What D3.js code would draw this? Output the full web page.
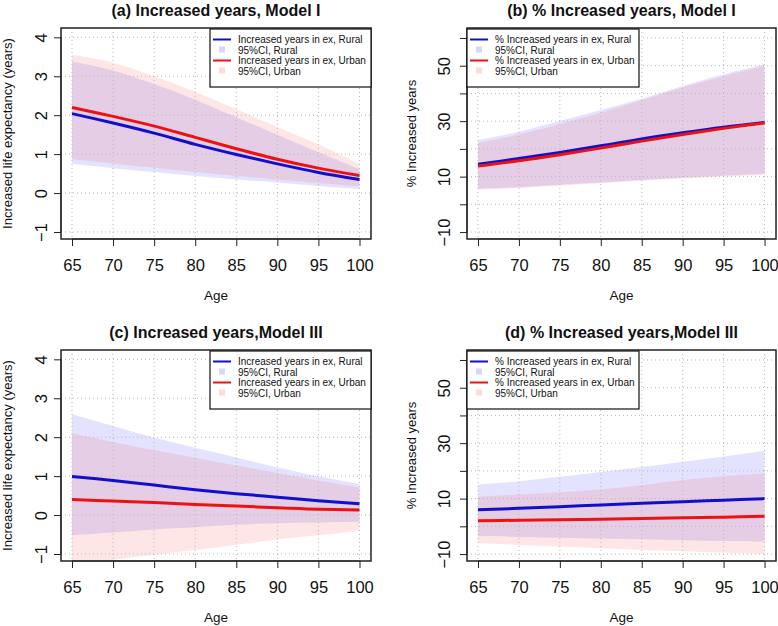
<!DOCTYPE html>
<html>
<head>
<meta charset="utf-8">
<script src="https://cdn.jsdelivr.net/npm/d3@7"></script>
<style>
  html, body { margin: 0; padding: 0; background: #fff; }
  svg { display: block; font-family: "Liberation Sans", Arial, Helvetica, sans-serif; }
</style>
</head>
<body>
<svg id="chart" width="778" height="626"></svg>
<script>
// ---------------- DATA ----------------
const ages = [65, 70, 75, 80, 85, 90, 95, 100];
const xTicks = [65, 70, 75, 80, 85, 90, 95, 100];

const yTicksYears = [-1, 0, 1, 2, 3, 4];
const yLabelsYears = ["\u22121", "0", "1", "2", "3", "4"];
const yTicksPct = [-10, 0, 10, 20, 30, 40, 50, 60];
const yLabelsPct = ["\u221210", "", "10", "", "30", "", "50", ""];

// (a) Model I, increased years
const aRural   = [2.04, 1.80, 1.54, 1.25, 0.99, 0.75, 0.53, 0.35];
const aRuralLo = [0.75, 0.64, 0.54, 0.44, 0.35, 0.27, 0.18, 0.10];
const aRuralHi = [3.38, 3.15, 2.80, 2.40, 1.95, 1.50, 1.05, 0.62];
const aUrban   = [2.20, 1.97, 1.72, 1.43, 1.14, 0.87, 0.64, 0.45];
const aUrbanLo = [0.87, 0.76, 0.65, 0.54, 0.44, 0.35, 0.26, 0.17];
const aUrbanHi = [3.55, 3.35, 3.00, 2.60, 2.15, 1.70, 1.25, 0.75];

// (b) Model I, % increased years
const bRural   = [14.5, 16.5, 18.7, 21.1, 23.6, 25.8, 27.8, 29.5];
const bRuralLo = [5.6, 6.2, 7.1, 7.9, 8.8, 9.6, 10.3, 11.0];
const bRuralHi = [23.2, 26.2, 30.1, 34.0, 38.1, 42.7, 46.9, 50.5];
const bUrban   = [13.8, 15.7, 17.9, 20.3, 22.8, 25.2, 27.4, 29.4];
const bUrbanLo = [5.3, 5.9, 6.8, 7.6, 8.5, 9.3, 10.0, 10.7];
const bUrbanHi = [22.2, 25.2, 28.9, 33.0, 37.5, 42.1, 46.2, 49.9];

// (c) Model III, increased years
const cRural   = [0.99, 0.89, 0.77, 0.65, 0.55, 0.46, 0.37, 0.29];
const cRuralLo = [-0.52, -0.45, -0.37, -0.31, -0.25, -0.21, -0.19, -0.17];
const cRuralHi = [2.59, 2.29, 1.99, 1.73, 1.48, 1.22, 1.00, 0.80];
const cUrban   = [0.40, 0.36, 0.32, 0.27, 0.23, 0.19, 0.15, 0.13];
const cUrbanLo = [-1.30, -1.15, -1.02, -0.90, -0.76, -0.63, -0.52, -0.41];
const cUrbanHi = [2.10, 1.88, 1.67, 1.47, 1.27, 1.08, 0.89, 0.71];

// (d) Model III, % increased years
const dRural   = [6.0, 6.5, 7.1, 7.7, 8.3, 8.9, 9.4, 10.0];
const dRuralLo = [-3.5, -3.8, -4.1, -4.4, -4.7, -5.0, -5.3, -5.5];
const dRuralHi = [15.1, 16.3, 17.9, 19.6, 21.4, 23.3, 25.2, 27.2];
const dUrban   = [2.0, 2.2, 2.4, 2.6, 2.8, 3.1, 3.3, 3.6];
const dUrbanLo = [-6.1, -6.7, -7.3, -7.9, -8.5, -9.0, -9.5, -10.0];
const dUrbanHi = [10.8, 11.5, 12.3, 13.3, 14.8, 16.7, 18.1, 19.1];

const titles = [
  "(a) Increased years, Model I",
  "(b) % Increased years, Model I",
  "(c) Increased years,Model III",
  "(d) % Increased years,Model III"
];
const yTitles = ["Increased life expectancy (years)", "% Increased years"];
const legendYears = ["Increased years in ex, Rural", "95%CI, Rural", "Increased years in ex, Urban", "95%CI, Urban"];
const legendPct = ["% Increased years in ex, Rural", "95%CI, Rural", "% Increased years in ex, Urban", "95%CI, Urban"];

// ---------------- DRAW ----------------
const svg = d3.select("#chart");
const BLUE = "#1010cc", RED = "#ee1111";
const FILL_RURAL = "rgba(40,40,255,0.13)", FILL_URBAN = "rgba(255,60,60,0.13)";
const LEG_RURAL = "rgba(40,40,255,0.18)", LEG_URBAN = "rgba(255,60,60,0.18)";

const panels = [
  {box: [61, 28, 371, 239], title: titles[0], yTitle: yTitles[0], yDom: [-1.18, 4.24], yTicks: yTicksYears, yLabels: yLabelsYears,
   rural: aRural, ruralLo: aRuralLo, ruralHi: aRuralHi, urban: aUrban, urbanLo: aUrbanLo, urbanHi: aUrbanHi,
   legend: legendYears, legendPos: "right", yTitleX: 12, yTickX: 47},
  {box: [467, 28, 776, 239], title: titles[1], yTitle: yTitles[1], yDom: [-12.5, 63.6], yTicks: yTicksPct, yLabels: yLabelsPct,
   rural: bRural, ruralLo: bRuralLo, ruralHi: bRuralHi, urban: bUrban, urbanLo: bUrbanLo, urbanHi: bUrbanHi,
   legend: legendPct, legendPos: "left", yTitleX: 416, yTickX: 450},
  {box: [61, 350, 371, 561], title: titles[2], yTitle: yTitles[0], yDom: [-1.18, 4.24], yTicks: yTicksYears, yLabels: yLabelsYears,
   rural: cRural, ruralLo: cRuralLo, ruralHi: cRuralHi, urban: cUrban, urbanLo: cUrbanLo, urbanHi: cUrbanHi,
   legend: legendYears, legendPos: "right", yTitleX: 12, yTickX: 47},
  {box: [467, 350, 776, 561], title: titles[3], yTitle: yTitles[1], yDom: [-12.5, 63.6], yTicks: yTicksPct, yLabels: yLabelsPct,
   rural: dRural, ruralLo: dRuralLo, ruralHi: dRuralHi, urban: dUrban, urbanLo: dUrbanLo, urbanHi: dUrbanHi,
   legend: legendPct, legendPos: "left", yTitleX: 416, yTickX: 450}
];

panels.forEach((p, i) => {
  const [x0, y0, x1, y1] = p.box;
  const x = d3.scaleLinear().domain([63.66, 101.4]).range([x0, x1]);
  const y = d3.scaleLinear().domain(p.yDom).range([y1, y0]);
  const g = svg.append("g");
  const clipId = "clip" + i;
  svg.append("clipPath").attr("id", clipId).append("rect")
    .attr("x", x0).attr("y", y0).attr("width", x1 - x0).attr("height", y1 - y0);

  const plot = g.append("g").attr("clip-path", `url(#${clipId})`);

  const curve = d3.curveCatmullRom.alpha(0.5);
  const area = (lo, hi) => d3.area()
    .x((d, k) => x(ages[k])).y0((d, k) => y(lo[k])).y1((d, k) => y(hi[k]))
    .curve(curve)(ages);
  const line = (v) => d3.line().x((d, k) => x(ages[k])).y((d, k) => y(v[k]))
    .curve(curve)(ages);

  plot.append("path").attr("d", area(p.ruralLo, p.ruralHi)).attr("fill", FILL_RURAL);
  plot.append("path").attr("d", area(p.urbanLo, p.urbanHi)).attr("fill", FILL_URBAN);

  // grid
  const grid = plot.append("g").attr("stroke", "#b8b8b8").attr("stroke-width", 1).attr("stroke-dasharray", "1,3");
  xTicks.forEach(t => grid.append("line").attr("x1", x(t)).attr("x2", x(t)).attr("y1", y0).attr("y2", y1));
  p.yTicks.forEach(t => grid.append("line").attr("x1", x0).attr("x2", x1).attr("y1", y(t)).attr("y2", y(t)));

  plot.append("path").attr("d", line(p.rural)).attr("fill", "none").attr("stroke", BLUE).attr("stroke-width", 3);
  plot.append("path").attr("d", line(p.urban)).attr("fill", "none").attr("stroke", RED).attr("stroke-width", 3);

  // x axis
  const xAxis = g.append("g").attr("transform", `translate(0,${y1})`)
    .call(d3.axisBottom(x).tickValues(xTicks).tickSize(7).tickPadding(9).tickFormat(d3.format("d")));
  xAxis.select(".domain").attr("d", `M${x(65)},0H${x(100)}`).attr("stroke", "#222");
  xAxis.selectAll(".tick line").attr("stroke", "#222");
  xAxis.selectAll(".tick text").attr("font-size", 16.5).attr("fill", "#111")
    .attr("font-family", "'Liberation Sans', Arial, sans-serif").attr("dy", 0).attr("y", 32);

  // y axis
  const yAxis = g.append("g").attr("transform", `translate(${x0},0)`)
    .call(d3.axisLeft(y).tickValues(p.yTicks).tickSize(7).tickFormat((d, k) => p.yLabels[k]));
  yAxis.select(".domain").attr("d", `M0,${y(p.yTicks[0])}V${y(p.yTicks[p.yTicks.length - 1])}`).attr("stroke", "#222");
  yAxis.selectAll(".tick line").attr("stroke", "#222");
  yAxis.selectAll(".tick text")
    .attr("font-size", 16.5).attr("fill", "#111")
    .attr("font-family", "'Liberation Sans', Arial, sans-serif")
    .attr("x", null).attr("dy", null)
    .attr("text-anchor", "middle")
    .attr("transform", `translate(${p.yTickX - x0},0) rotate(-90)`);

  // box
  g.append("rect").attr("x", x0).attr("y", y0).attr("width", x1 - x0).attr("height", y1 - y0)
    .attr("fill", "none").attr("stroke", "#222").attr("stroke-width", 1.5);

  // title
  g.append("text").attr("x", (x0 + x1) / 2).attr("y", y0 - 12.5).attr("text-anchor", "middle")
    .attr("font-size", 16).attr("font-weight", "bold").attr("fill", "#111").text(p.title);
  // x title
  g.append("text").attr("x", (x0 + x1) / 2).attr("y", y1 + 61).attr("text-anchor", "middle")
    .attr("font-size", 13.5).attr("fill", "#111").text("Age");
  // y title
  g.append("text").attr("transform", `translate(${p.yTitleX},${(y0 + y1) / 2}) rotate(-90)`)
    .attr("text-anchor", "middle").attr("font-size", 13).attr("fill", "#111").text(p.yTitle);

  // legend
  const lw = p.legendPos === "right" ? 161 : 172;
  const lx = p.legendPos === "right" ? x1 - lw : x0;
  const ly = y0 + 1;
  const leg = g.append("g");
  leg.append("rect").attr("x", lx).attr("y", ly).attr("width", lw).attr("height", 58)
    .attr("fill", "#fff").attr("stroke", "#111").attr("stroke-width", 1.2);
  const rows = [14, 24.5, 35, 45.5];
  const colors = [BLUE, LEG_RURAL, RED, LEG_URBAN];
  p.legend.forEach((txt, k) => {
    const ry = ly + rows[k];
    if (k % 2 === 0) {
      leg.append("line").attr("x1", lx + 3).attr("x2", lx + 21).attr("y1", ry - 3.5).attr("y2", ry - 3.5)
        .attr("stroke", colors[k]).attr("stroke-width", 2);
    } else {
      leg.append("rect").attr("x", lx + 9).attr("y", ry - 7).attr("width", 6).attr("height", 6).attr("fill", colors[k]);
    }
    leg.append("text").attr("x", lx + 28).attr("y", ry).attr("font-size", 10).attr("fill", "#111").text(txt);
  });
});
</script>
</body>
</html>
